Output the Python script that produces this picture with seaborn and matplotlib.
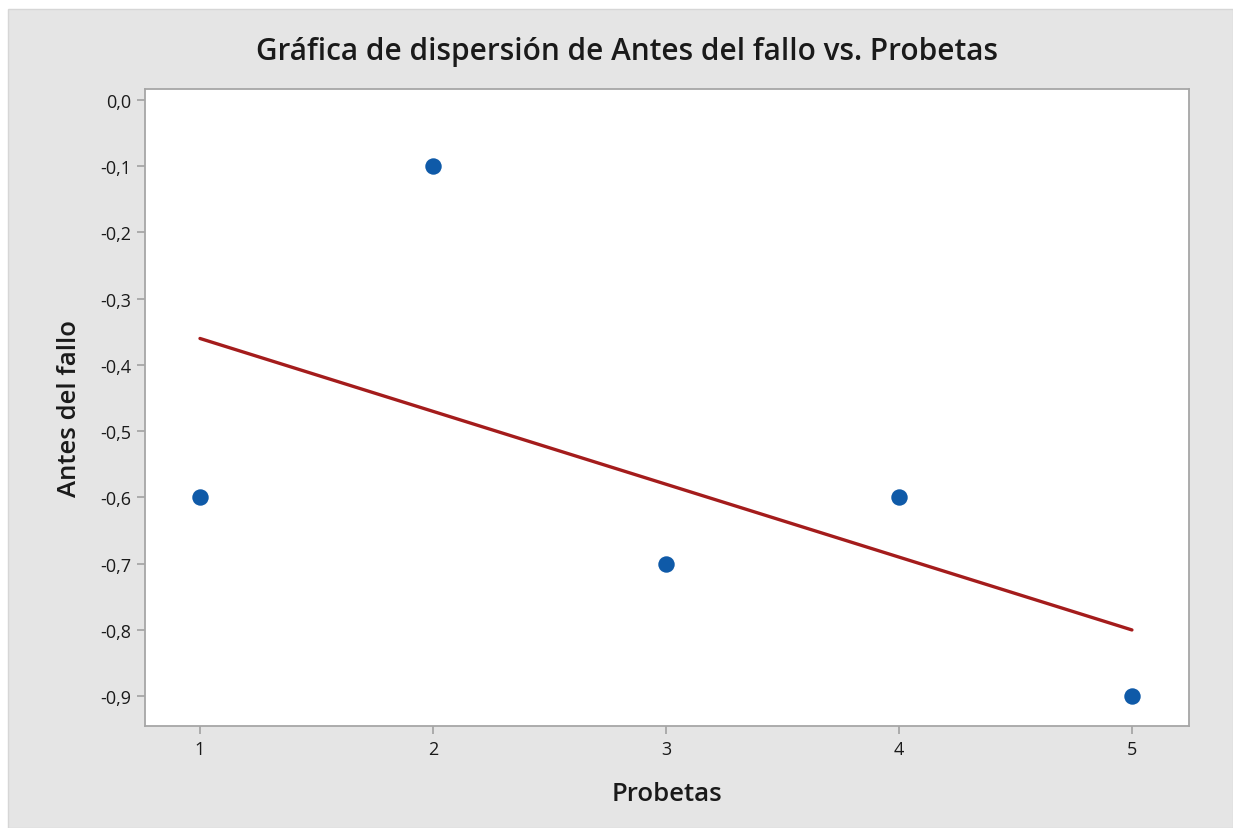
import matplotlib
matplotlib.use("Agg")
import matplotlib.pyplot as plt
from matplotlib.patches import Rectangle
from matplotlib.ticker import FuncFormatter
import numpy as np
import pandas as pd
import seaborn as sns

# Data
probetas = [1, 2, 3, 4, 5]
antes_del_fallo = [-0.6, -0.1, -0.7, -0.6, -0.9]
y_ticks = [0.0, -0.1, -0.2, -0.3, -0.4, -0.5, -0.6, -0.7, -0.8, -0.9]
x_ticks = [1, 2, 3, 4, 5]

df = pd.DataFrame({"Probetas": probetas, "Antes del fallo": antes_del_fallo})

sns.set_theme(style="white")
plt.rcParams["font.family"] = ["Open Sans", "DejaVu Sans"]

fig = plt.figure(figsize=(12.33, 8.29), dpi=100, facecolor="white")
# Gray panel behind the plot
fig.patches.append(Rectangle((8 / 1233, 0), 1 - 8 / 1233, 1 - 10 / 829,
                             transform=fig.transFigure, facecolor="#e5e5e5",
                             edgecolor="#d6d6d6", linewidth=1, zorder=-10))

ax = fig.add_axes([145 / 1233, 1 - 727 / 829, (1189 - 145) / 1233, (727 - 90) / 829])
ax.set_facecolor("white")

sns.regplot(data=df, x="Probetas", y="Antes del fallo", ci=None, scatter=False,
            ax=ax, line_kws={"color": "#a41c1c", "linewidth": 2.4})
sns.scatterplot(data=df, x="Probetas", y="Antes del fallo", ax=ax, s=140,
                color="#0f5aa8", edgecolor="#0f5aa8", linewidth=0, zorder=3)

ax.set_xlim(0.764, 5.245)
ax.set_ylim(-0.945, 0.0166)
ax.set_xticks(x_ticks)
ax.set_yticks(y_ticks)
ax.yaxis.set_major_formatter(FuncFormatter(lambda v, p: f"{v:.1f}".replace(".", ",").replace("-0,0", "0,0")))

for s in ax.spines.values():
    s.set_color("#a6a6a6")
    s.set_linewidth(1.3)

ax.tick_params(axis="both", which="major", direction="out", length=6, width=1.3,
               color="#a6a6a6", labelsize=13, labelcolor="#1a1a1a", pad=4,
               bottom=True, left=True)
for lbl in ax.get_xticklabels() + ax.get_yticklabels():
    lbl.set_fontweight(500)

ax.set_xlabel("Probetas", fontsize=18.5, fontweight=600, color="#1a1a1a", labelpad=17)
ax.set_ylabel("Antes del fallo", fontsize=18.5, fontweight=600, color="#1a1a1a", labelpad=13)
fig.text(627 / 1233, 1 - 52 / 829, "Gráfica de dispersión de Antes del fallo vs. Probetas",
         ha="center", va="center", fontsize=21.4, fontweight=600, color="#1a1a1a")

fig.savefig("out.png", dpi=100, facecolor=fig.get_facecolor())
